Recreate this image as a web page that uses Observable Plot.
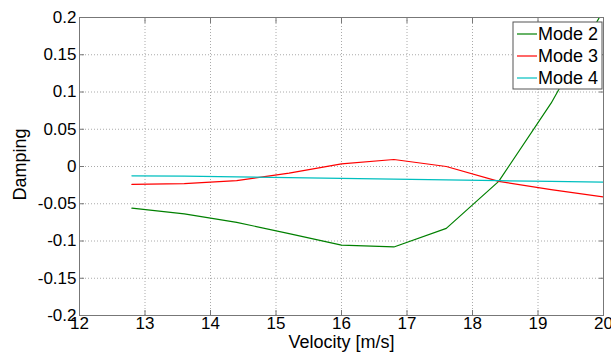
<!DOCTYPE html>
<html>
<head>
<meta charset="utf-8">
<script src="https://cdn.jsdelivr.net/npm/d3@7"></script>
<script src="https://cdn.jsdelivr.net/npm/@observablehq/plot@0.6"></script>
<style>
  html, body { margin: 0; padding: 0; background: #fff; }
  #chart svg { display: block; }
</style>
</head>
<body>
<div id="chart"></div>
<script>
const velocity = [12.8, 13.6, 14.4, 15.2, 16.0, 16.8, 17.6, 18.4, 19.2, 20.0];
const mode2 = [-0.056, -0.0635, -0.075, -0.090, -0.1056, -0.108, -0.083, -0.020, 0.085, 0.21];
const mode3 = [-0.024, -0.023, -0.019, -0.009, 0.0036, 0.0094, 0.0, -0.020, -0.031, -0.041];
const mode4 = [-0.0125, -0.013, -0.014, -0.015, -0.016, -0.017, -0.018, -0.019, -0.020, -0.021];
const seriesNames = ["Mode 2", "Mode 3", "Mode 4"];
const seriesColors = ["#008000", "#ff0000", "#00bfbf"];
const xTicks = [12, 13, 14, 15, 16, 17, 18, 19, 20];
const yTicks = [-0.2, -0.15, -0.1, -0.05, 0, 0.05, 0.1, 0.15, 0.2];
const yTickLabels = ["-0.2", "-0.15", "-0.1", "-0.05", "0", "0.05", "0.1", "0.15", "0.2"];

const allSeries = [mode2, mode3, mode4];
const data = [];
allSeries.forEach((vals, i) => {
  vals.forEach((v, j) => data.push({series: seriesNames[i], x: velocity[j], y: v}));
});

const font = "'Liberation Sans', Arial, sans-serif";
const W = 611, H = 355;
const mL = 79, mR = 8, mT = 17, mB = 40;

const plot = Plot.plot({
  width: W,
  height: H,
  marginLeft: mL,
  marginRight: mR,
  marginTop: mT,
  marginBottom: mB,
  style: {fontFamily: font, fontSize: "17px", color: "#000", background: "#fff", overflow: "visible"},
  x: {domain: [12, 20]},
  y: {domain: [-0.2, 0.2]},
  color: {domain: seriesNames, range: seriesColors},
  marks: [
    Plot.gridX(xTicks, {stroke: "#aaa", strokeOpacity: 1, strokeDasharray: "1,2", strokeWidth: 1}),
    Plot.gridY(yTicks, {stroke: "#aaa", strokeOpacity: 1, strokeDasharray: "1,2", strokeWidth: 1}),
    Plot.line(data, {x: "x", y: "y", z: "series", stroke: "series", strokeWidth: 1.2, clip: true}),
    Plot.frame({stroke: "#777", strokeWidth: 1}),
    Plot.axisX(xTicks, {anchor: "bottom", tickSize: 0, tickPadding: 1, fontSize: 17, label: null}),
    Plot.axisX(xTicks, {anchor: "bottom", tickSize: -5, text: null, stroke: "#777", label: null}),
    Plot.axisX(xTicks, {anchor: "top", tickSize: -5, text: null, stroke: "#777", label: null}),
    Plot.axisY(yTicks, {anchor: "left", tickSize: 0, tickPadding: 3, fontSize: 17, label: null,
      tickFormat: (d) => yTickLabels[yTicks.indexOf(d)]}),
    Plot.axisY(yTicks, {anchor: "left", tickSize: -5, text: null, stroke: "#777", label: null}),
    Plot.axisY(yTicks, {anchor: "right", tickSize: -5, text: null, stroke: "#777", label: null}),
    Plot.text(["Velocity [m/s]"], {frameAnchor: "bottom", lineAnchor: "middle", dy: 27, fontSize: 18}),
    Plot.text(["Damping"], {frameAnchor: "left", textAnchor: "middle", lineAnchor: "middle", dx: -59, dy: -2, rotate: -90, fontSize: 18})
  ]
});

const svg = d3.select(plot);
// legend box (MATLAB style, top-right inside axes)
const lg = svg.append("g").attr("font-family", font).attr("font-size", 18).attr("text-anchor", "start");
const lx = 513, ly = 22, lw = 89, lh = 67;
lg.append("rect").attr("x", lx).attr("y", ly).attr("width", lw).attr("height", lh)
  .attr("fill", "#fff").attr("stroke", "#555").attr("stroke-width", 1);
seriesNames.forEach((name, i) => {
  const cy = ly + 12 + i * 22;
  lg.append("line").attr("x1", lx + 4).attr("x2", lx + 24).attr("y1", cy).attr("y2", cy)
    .attr("stroke", seriesColors[i]).attr("stroke-width", 1.2);
  lg.append("text").attr("x", lx + 25).attr("y", cy).attr("dy", "0.35em")
    .attr("fill", "#000").attr("text-anchor", "start").style("font-size", "18px").text(name);
});

document.getElementById("chart").appendChild(plot);
</script>
</body>
</html>
